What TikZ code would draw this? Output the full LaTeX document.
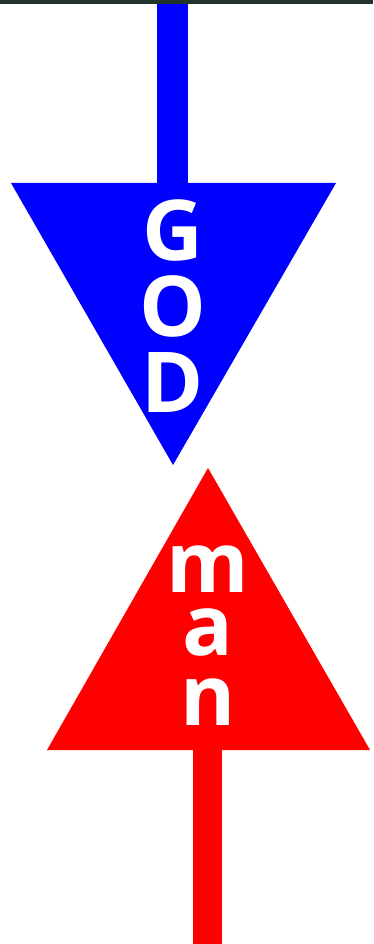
\documentclass[tikz,border=0pt]{standalone}
\usepackage{fontspec}
\setmainfont{Open Sans}
\definecolor{godblue}{HTML}{0000FF}
\definecolor{manred}{HTML}{FF0000}
\definecolor{strip}{HTML}{22332A}
\tikzset{
  letter/.style={text=white, font=\bfseries\fontsize{84}{84}\selectfont, inner sep=0pt, anchor=base, text depth=0pt},
  capletter/.style={letter, text height=0.72em},
  smallletter/.style={letter, text height=0.55em},
  bluebar/.style={draw=godblue, line width=31pt},
  redbar/.style={draw=manred, line width=29pt}
}
\begin{document}
\begin{tikzpicture}[x=1pt,y=-1pt]
\useasboundingbox (0,0) rectangle (373,944);
\fill[white] (0,0) rectangle (373,944);
\fill[strip] (0,0) rectangle (373,4);
% blue triangle
\coordinate (bl) at (11,183);
\coordinate (br) at (336,183);
\coordinate (bapex) at (173,465);
\coordinate (btop) at (172.5,4);
\coordinate (bjoin) at (172.5,190);
\fill[godblue] (bl) -- (br) -- (bapex) -- cycle;
\draw[bluebar] (btop) -- (bjoin);
% red triangle
\coordinate (rl) at (47,750);
\coordinate (rr) at (370,750);
\coordinate (rapex) at (208,468);
\coordinate (rjoin) at (207.5,744);
\coordinate (rbot) at (207.5,944);
\fill[manred] (rl) -- (rr) -- (rapex) -- cycle;
\draw[redbar] (rjoin) -- (rbot);
% letters
\node[capletter] (g) at (173,260) {G};
\node[capletter] (o) at (173,336) {O};
\node[capletter] (d) at (173,412) {D};
\node[smallletter] (m) at (208,592) {m};
\node[smallletter] (a) at (208,655) {a};
\node[smallletter] (n) at (208,725) {n};
\end{tikzpicture}
\end{document}
